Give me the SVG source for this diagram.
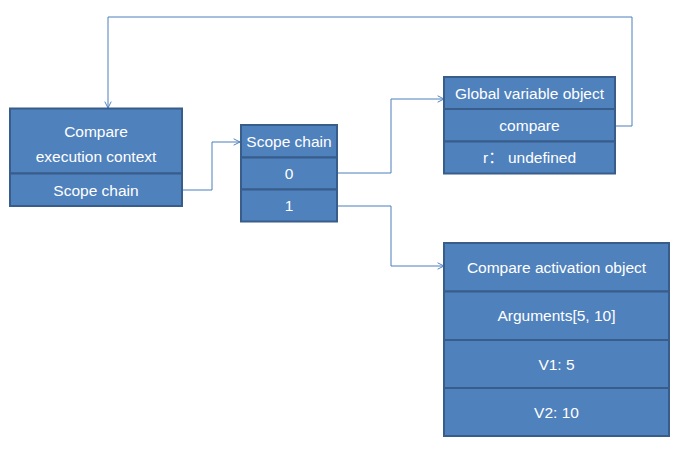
<svg xmlns="http://www.w3.org/2000/svg" width="676" height="452" viewBox="0 0 676 452">
<style>
.box{fill:#4F81BD;stroke:#385D8A;stroke-width:2}
.t{fill:#FFFFFF;font-family:"Liberation Sans","Noto Sans CJK SC",sans-serif;font-size:15.5px;text-anchor:middle;dominant-baseline:central}
.c{fill:none;stroke:#4A7EBB;stroke-width:1}
</style>
<defs>
<marker id="arr" viewBox="0 0 10 10" refX="9" refY="5" markerWidth="8" markerHeight="8" markerUnits="userSpaceOnUse" orient="auto">
<path d="M1,1 L9,5 L1,9" fill="none" stroke="#4A7EBB" stroke-width="1.2"/>
</marker>
</defs>
<rect width="676" height="452" fill="#FFFFFF"/>
<g id="connectors">
<polyline class="c" points="182,190 212,190 212,142 240,142" marker-end="url(#arr)"/>
<polyline class="c" points="337,173 391,173 391,99 444,99" marker-end="url(#arr)"/>
<polyline class="c" points="337,206 391,206 391,266 444,266" marker-end="url(#arr)"/>
<polyline class="c" points="615,126 632,126 632,17 108,17 108,108" marker-end="url(#arr)"/>
</g>
<g id="exec-context">
<rect class="box" x="10" y="108.5" width="172" height="65"/>
<rect class="box" x="10" y="173.5" width="172" height="32.5"/>
<text class="t" x="96" y="131">Compare</text>
<text class="t" x="96" y="156">execution context</text>
<text class="t" x="96" y="190">Scope chain</text>
</g>
<g id="scope-chain">
<rect class="box" x="241" y="125" width="96" height="32.5"/>
<rect class="box" x="241" y="157.5" width="96" height="32"/>
<rect class="box" x="241" y="189.5" width="96" height="32"/>
<text class="t" x="289" y="141">Scope chain</text>
<text class="t" x="289" y="173.5">0</text>
<text class="t" x="289" y="205.5">1</text>
</g>
<g id="global-object">
<rect class="box" x="444" y="77" width="171" height="32"/>
<rect class="box" x="444" y="109" width="171" height="32.5"/>
<rect class="box" x="444" y="141.5" width="171" height="32"/>
<text class="t" x="529.5" y="93">Global variable object</text>
<text class="t" x="529.5" y="125.5">compare</text>
<text class="t" x="529.5" y="157.5">r： undefined</text>
</g>
<g id="activation-object">
<rect class="box" x="444" y="243" width="225" height="48.5"/>
<rect class="box" x="444" y="291.5" width="225" height="48.5"/>
<rect class="box" x="444" y="340" width="225" height="48"/>
<rect class="box" x="444" y="388" width="225" height="48"/>
<text class="t" x="556.5" y="267">Compare activation object</text>
<text class="t" x="556.5" y="315.5">Arguments[5, 10]</text>
<text class="t" x="556.5" y="364">V1: 5</text>
<text class="t" x="556.5" y="412">V2: 10</text>
</g>
</svg>
